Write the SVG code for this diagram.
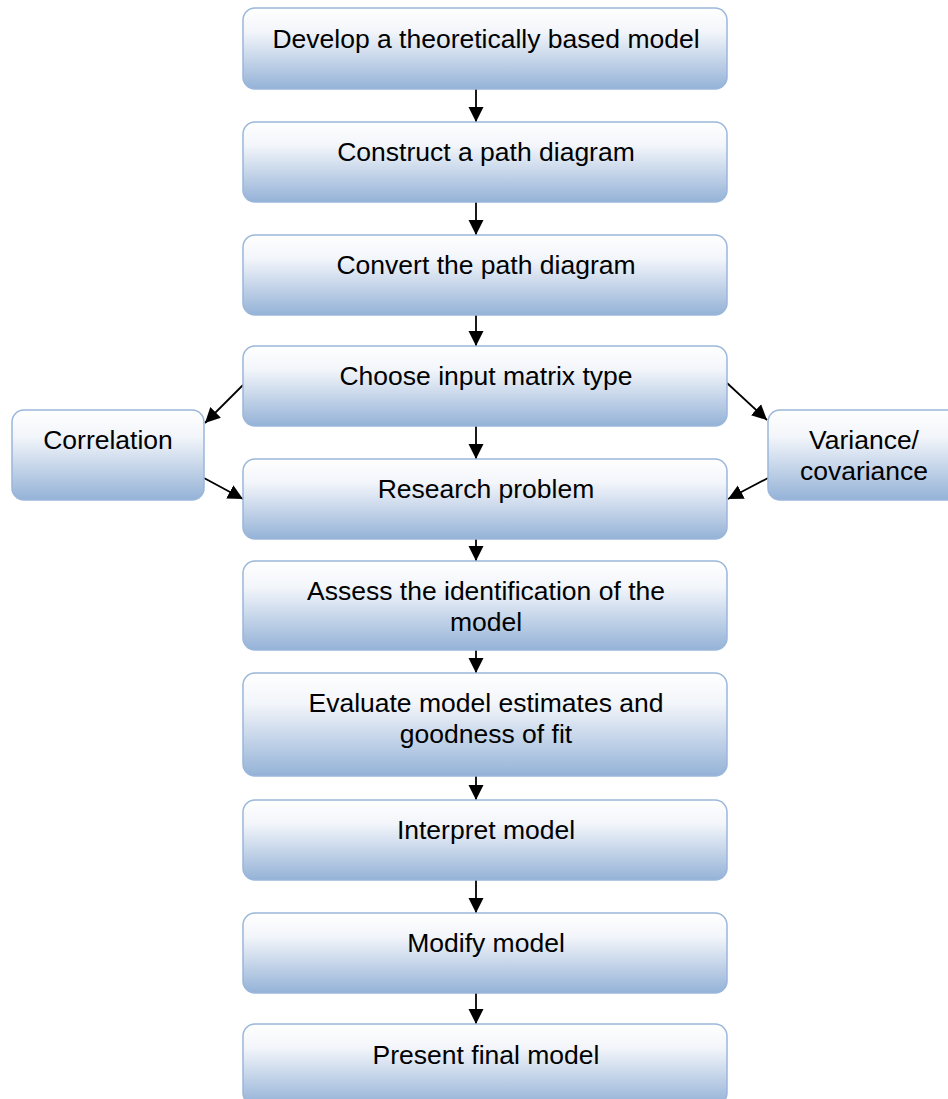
<svg xmlns="http://www.w3.org/2000/svg" width="948" height="1099" viewBox="0 0 948 1099">
  <defs>
    <linearGradient id="boxFill" x1="0" y1="0" x2="0" y2="1">
      <stop offset="0" stop-color="#ffffff"/>
      <stop offset="0.3" stop-color="#f2f5fa"/>
      <stop offset="1" stop-color="#94b2d7"/>
    </linearGradient>
    <marker id="arrow" markerUnits="userSpaceOnUse" markerWidth="16" markerHeight="16" viewBox="0 0 16 16" refX="15" refY="8" orient="auto">
      <path d="M0,0.5 L15,8 L0,15.5 Z" fill="#000"/>
    </marker>
    <style>
      .box { fill: url(#boxFill); stroke: #9ab6da; stroke-width: 1.5; }
      .label { font-family: "Liberation Sans", Arial, sans-serif; font-size: 26.5px; fill: #000; text-anchor: middle; }
      .conn { stroke: #000; stroke-width: 1.8; fill: none; marker-end: url(#arrow); }
    </style>
  </defs>
  <rect width="948" height="1099" fill="#ffffff"/>

  <!-- connectors -->
  <g id="connectors">
    <line class="conn" x1="476" y1="89" x2="476" y2="122"/>
    <line class="conn" x1="476" y1="202" x2="476" y2="235"/>
    <line class="conn" x1="476" y1="315" x2="476" y2="346"/>
    <line class="conn" x1="476" y1="426" x2="476" y2="459"/>
    <line class="conn" x1="476" y1="539" x2="476" y2="561"/>
    <line class="conn" x1="476" y1="650" x2="476" y2="673"/>
    <line class="conn" x1="476" y1="776" x2="476" y2="800"/>
    <line class="conn" x1="476" y1="880" x2="476" y2="913"/>
    <line class="conn" x1="476" y1="993" x2="476" y2="1024"/>
    <line class="conn" x1="243" y1="385" x2="205" y2="423"/>
    <line class="conn" x1="204" y1="478" x2="243" y2="499"/>
    <line class="conn" x1="727" y1="383" x2="767" y2="420"/>
    <line class="conn" x1="768" y1="478" x2="728" y2="499"/>
  </g>

  <!-- main column -->
  <g id="n1">
    <rect class="box" x="243" y="8" width="484" height="81" rx="12"/>
    <text class="label" x="486" y="48">Develop a theoretically based model</text>
  </g>
  <g id="n2">
    <rect class="box" x="243" y="122" width="484" height="80" rx="12"/>
    <text class="label" x="486" y="161">Construct a path diagram</text>
  </g>
  <g id="n3">
    <rect class="box" x="243" y="235" width="484" height="80" rx="12"/>
    <text class="label" x="486" y="274">Convert the path diagram</text>
  </g>
  <g id="n4">
    <rect class="box" x="243" y="346" width="484" height="80" rx="12"/>
    <text class="label" x="486" y="385">Choose input matrix type</text>
  </g>
  <g id="n5">
    <rect class="box" x="243" y="459" width="484" height="80" rx="12"/>
    <text class="label" x="486" y="498">Research problem</text>
  </g>
  <g id="n6">
    <rect class="box" x="243" y="561" width="484" height="89" rx="12"/>
    <text class="label" x="486" y="600">Assess the identification of the</text>
    <text class="label" x="486" y="631">model</text>
  </g>
  <g id="n7">
    <rect class="box" x="243" y="673" width="484" height="103" rx="12"/>
    <text class="label" x="486" y="712">Evaluate model estimates and</text>
    <text class="label" x="486" y="743">goodness of fit</text>
  </g>
  <g id="n8">
    <rect class="box" x="243" y="800" width="484" height="80" rx="12"/>
    <text class="label" x="486" y="839">Interpret model</text>
  </g>
  <g id="n9">
    <rect class="box" x="243" y="913" width="484" height="80" rx="12"/>
    <text class="label" x="486" y="952">Modify model</text>
  </g>
  <g id="n10">
    <rect class="box" x="243" y="1024" width="484" height="81" rx="12"/>
    <text class="label" x="486" y="1064">Present final model</text>
  </g>

  <!-- side options -->
  <g id="correlation">
    <rect class="box" x="12" y="410" width="192" height="90" rx="12"/>
    <text class="label" x="108" y="449">Correlation</text>
  </g>
  <g id="variance">
    <rect class="box" x="768" y="410" width="192" height="90" rx="12"/>
    <text class="label" x="864" y="449">Variance/</text>
    <text class="label" x="864" y="480">covariance</text>
  </g>
</svg>
